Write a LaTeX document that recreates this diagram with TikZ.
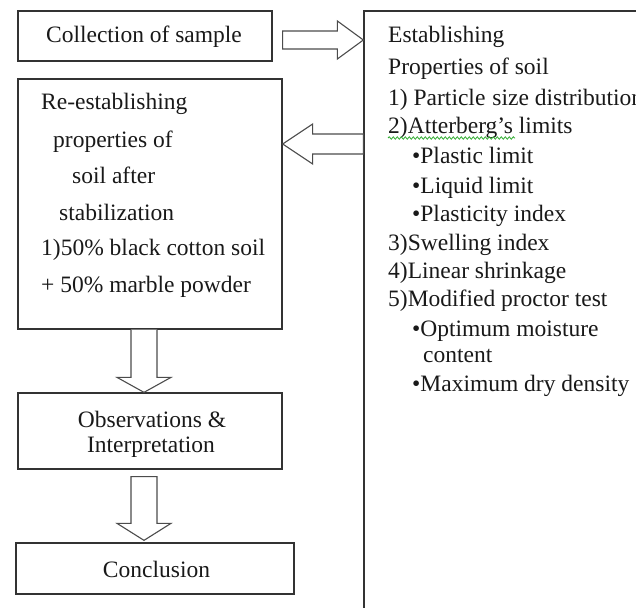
\documentclass[tikz,border=0pt]{standalone}
\usepackage{fontspec}
\setmainfont{Liberation Serif}
\usetikzlibrary{calc,decorations.pathmorphing}
\begin{document}
\begin{tikzpicture}[x=1pt,y=-1pt,
  font=\fontsize{23.5}{27}\selectfont,
  box/.style={draw=black!80,line width=1.3pt,inner sep=0pt},
  barrow/.style={draw=black!70,line width=1.1pt,fill=white,line join=miter},
  txt/.style={anchor=base west,inner sep=0pt,text=black!90},
  ctxt/.style={anchor=base,inner sep=0pt,text=black!90}]
\useasboundingbox (0,0) rectangle (636,607);
\clip (0,0) rectangle (636,607);
\fill[white] (0,0) rectangle (636,607);
% boxes
\node[box,minimum width=254pt,minimum height=50pt] (coll) at (145,36) {};
\node[box,minimum width=264pt,minimum height=250pt] (reest) at (150,204) {};
\node[box,minimum width=264pt,minimum height=76pt] (obs) at (150,431) {};
\node[box,minimum width=278pt,minimum height=51pt] (concl) at (155,568.5) {};
\node[box,minimum width=400pt,minimum height=760pt] (est) at (564,391) {};
% arrow 1 (right)
\coordinate (a1s) at ($(coll.east)+(10,4)$);
\coordinate (a1t) at (est.west |- a1s);
\draw[barrow] ($(a1s)+(0,-9)$) -- ($(a1t)+(-26,-9)$) -- ($(a1t)+(-26,-19)$) -- (a1t)
  -- ($(a1t)+(-26,19)$) -- ($(a1t)+(-26,9)$) -- ($(a1s)+(0,9)$) -- cycle;
% arrow 2 (left)
\coordinate (a2t) at ($(reest.east)+(0,-60)$);
\coordinate (a2s) at (est.west |- a2t);
\draw[barrow] ($(a2s)+(0,-10)$) -- ($(a2t)+(30,-10)$) -- ($(a2t)+(30,-20)$) -- (a2t)
  -- ($(a2t)+(30,20)$) -- ($(a2t)+(30,10)$) -- ($(a2s)+(0,10)$) -- cycle;
% arrow 3 (down)
\coordinate (a3s) at ($(reest.south)+(-6,0)$);
\coordinate (a3t) at (a3s |- obs.north);
\draw[barrow] ($(a3s)+(-13,0)$) -- ($(a3t)+(-13,-15)$) -- ($(a3t)+(-27,-15)$) -- (a3t)
  -- ($(a3t)+(27,-15)$) -- ($(a3t)+(13,-15)$) -- ($(a3s)+(13,0)$);
% arrow 4 (down)
\coordinate (a4s) at ($(obs.south)+(-6,7)$);
\coordinate (a4t) at ($(a4s |- concl.north)+(0,-2)$);
\draw[barrow] ($(a4s)+(-13,0)$) -- ($(a4t)+(-13,-17)$) -- ($(a4t)+(-27,-17)$) -- (a4t)
  -- ($(a4t)+(27,-17)$) -- ($(a4t)+(13,-17)$) -- ($(a4s)+(13,0)$) -- cycle;
% texts
\node[ctxt] (tcoll) at (144,43) {Collection of sample};
\node[ctxt] (tobs1) at (152,427) {Observations \&};
\node[ctxt] (tobs2) at (151,452) {Interpretation};
\node[ctxt] (tconc) at (156.5,577) {Conclusion};
\foreach \x/\y/\t [count=\i] in {
  41/110/{Re-establishing},
  53/147/{properties of},
  72/183/{soil after},
  59/220/{stabilization},
  41/255/{1)50\% black cotton soil},
  41/292/{+ 50\% marble powder}}
  \node[txt] (l\i) at (\x,\y) {\t};
\foreach \x/\y/\t [count=\i] in {
  388/43/{Establishing},
  388/75/{Properties of soil},
  388/106/{1) Particle\hspace{7pt}size distribution},
  388/133/{2)Atterberg’s limits},
  412/163/{•Plastic limit},
  412/193/{•Liquid limit},
  412/221/{•Plasticity index},
  388/250/{3)Swelling index},
  388/278/{4)Linear shrinkage},
  388/306/{5)Modified proctor test},
  412/336/{•Optimum moisture},
  423/362/{content},
  412/391/{•Maximum dry density}}
  \node[txt] (r\i) at (\x,\y) {\t};
% spell-check squiggle
\draw[green!60!black!80,line width=0.8pt,decorate,decoration={snake,amplitude=1.2pt,segment length=4pt}]
  ($(r4.base west)+(0,5)$) -- ($(r4.base west)+(127,5)$);
\end{tikzpicture}
\end{document}
